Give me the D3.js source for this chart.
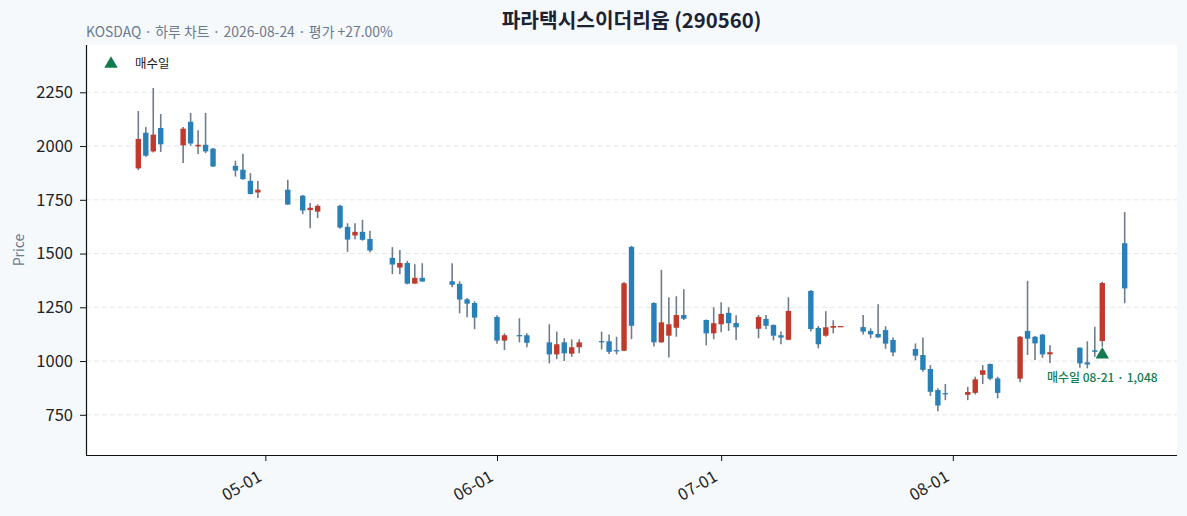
<!DOCTYPE html>
<html><head><meta charset="utf-8">
<script src="https://cdn.jsdelivr.net/npm/d3@7"></script>
<style>
html,body{margin:0;padding:0;background:#f6f9fc;}
svg{display:block;font-family:"Noto Sans CJK KR","Noto Sans",sans-serif;}
</style></head><body>
<svg id="chart" width="1187" height="516"></svg>
<script>
const dates = ["2026-04-14","2026-04-15","2026-04-16","2026-04-17","2026-04-20","2026-04-21","2026-04-22","2026-04-23","2026-04-24","2026-04-27","2026-04-28","2026-04-29","2026-04-30","2026-05-04","2026-05-06","2026-05-07","2026-05-08","2026-05-11","2026-05-12","2026-05-13","2026-05-14","2026-05-15","2026-05-18","2026-05-19","2026-05-20","2026-05-21","2026-05-22","2026-05-26","2026-05-27","2026-05-28","2026-05-29","2026-06-01","2026-06-02","2026-06-04","2026-06-05","2026-06-08","2026-06-09","2026-06-10","2026-06-11","2026-06-12","2026-06-15","2026-06-16","2026-06-17","2026-06-18","2026-06-19","2026-06-22","2026-06-23","2026-06-24","2026-06-25","2026-06-26","2026-06-29","2026-06-30","2026-07-01","2026-07-02","2026-07-03","2026-07-06","2026-07-07","2026-07-08","2026-07-09","2026-07-10","2026-07-13","2026-07-14","2026-07-15","2026-07-16","2026-07-17","2026-07-20","2026-07-21","2026-07-22","2026-07-23","2026-07-24","2026-07-27","2026-07-28","2026-07-29","2026-07-30","2026-07-31","2026-08-03","2026-08-04","2026-08-05","2026-08-06","2026-08-07","2026-08-10","2026-08-11","2026-08-12","2026-08-13","2026-08-14","2026-08-18","2026-08-19","2026-08-20","2026-08-21","2026-08-24"];
const opens  = [1896,2062,1975,2084,2003,2113,1998,2006,1988,1908,1890,1838,1784,1797,1769,1702,1695,1722,1624,1584,1601,1568,1480,1435,1456,1360,1387,1371,1359,1287,1270,1205,1095,1121,1120,1087,1031,1087,1034,1064,1093,1092,1051,1048,1531,1270,1087,1118,1155,1214,1191,1129,1171,1224,1177,1150,1196,1168,1120,1099,1326,1154,1118,1155,1161,1158,1140,1126,1144,1098,1056,1028,963,865,851,843,852,936,986,919,918,1140,1113,1123,1031,1062,994,1050,1093,1548];
const highs  = [2163,2089,2270,2149,2089,2154,2073,2154,1991,1932,1964,1874,1838,1843,1773,1735,1728,1727,1641,1641,1657,1606,1530,1516,1466,1450,1455,1455,1371,1293,1278,1213,1129,1199,1129,1171,1137,1106,1101,1101,1137,1124,1113,1368,1536,1273,1424,1297,1301,1334,1193,1250,1273,1250,1213,1214,1214,1170,1137,1297,1331,1163,1232,1190,1163,1214,1152,1264,1162,1110,1082,1110,981,873,893,880,927,981,989,927,1116,1373,1116,1126,1073,1064,1092,1160,1369,1693];
const lows   = [1888,1950,1970,1972,1921,2001,1963,1967,1902,1858,1843,1775,1758,1726,1683,1618,1665,1615,1508,1567,1560,1506,1404,1404,1357,1360,1369,1343,1222,1204,1148,1081,1051,1087,1064,989,1009,1000,1020,1036,1054,1033,1031,1046,1102,1068,1085,1017,1113,1191,1073,1101,1134,1140,1098,1106,1149,1096,1078,1097,1137,1059,1113,1129,1161,1124,1106,1108,1057,1022,1003,950,838,767,818,818,845,893,911,826,901,1028,1005,1015,991,969,966,1020,1067,1269];
const closes = [2033,1955,2053,2008,2081,2012,2006,1975,1905,1886,1846,1777,1797,1728,1700,1713,1722,1621,1565,1601,1564,1514,1449,1456,1360,1387,1370,1355,1286,1267,1202,1095,1120,1119,1085,1031,1078,1036,1064,1087,1087,1043,1049,1362,1164,1087,1180,1171,1214,1197,1129,1176,1219,1176,1157,1205,1164,1118,1109,1233,1149,1078,1157,1163,1163,1137,1124,1110,1081,1040,1025,959,857,793,847,856,915,957,918,852,1113,1104,1082,1031,1041,989,984,1043,1363,1338];
const yTicks = [750,1000,1250,1500,1750,2000,2250];
const xTickDates = ["2026-05-01","2026-06-01","2026-07-01","2026-08-01"];
const buyDate = "2026-08-21";
const buyPrice = 1048;
const titleText = "파라택시스이더리움 (290560)";
const subtitleText = "KOSDAQ · 하루 차트 · 2026-08-24 · 평가 +27.00%";
const legendLabel = "매수일";
const yLabel = "Price";

const parse = d3.utcParse("%Y-%m-%d");
const rows = dates.map((d,i)=>({date:parse(d),o:opens[i],h:highs[i],l:lows[i],c:closes[i]}));

const svg = d3.select("#chart");
const m = {left:86, right:1177, top:45, bottom:455};
const DAY = 864e5;

const x = d3.scaleUtc()
  .domain([new Date(rows[0].date.getTime()-7*DAY), new Date(rows[rows.length-1].date.getTime()+7*DAY)])
  .range([m.left, m.right]);
const y = d3.scaleLinear().domain([563, 2470]).range([m.bottom, m.top]);

svg.append("rect").attr("x",m.left).attr("y",m.top).attr("width",m.right-m.left).attr("height",m.bottom-m.top).attr("fill","#ffffff");

// grid
svg.append("g").selectAll("line").data(yTicks).join("line")
  .attr("x1",m.left).attr("x2",m.right)
  .attr("y1",d=>y(d)).attr("y2",d=>y(d))
  .attr("stroke","#e4e6e8").attr("stroke-width",1).attr("stroke-dasharray","5,3");

const up = "#c0392b", down = "#2980b9", wick = "#6f7c8b";
const bw = 5.4;
const g = svg.append("g");
g.selectAll("line.w").data(rows).join("line").attr("class","w")
  .attr("x1",d=>x(d.date)).attr("x2",d=>x(d.date))
  .attr("y1",d=>y(d.h)).attr("y2",d=>y(d.l))
  .attr("stroke",wick).attr("stroke-width",1.6);
g.selectAll("rect.b").data(rows).join("rect").attr("class","b")
  .attr("x",d=>x(d.date)-bw/2).attr("width",bw)
  .attr("y",d=>y(Math.max(d.o,d.c)))
  .attr("height",d=>Math.max(1.3, Math.abs(y(d.o)-y(d.c))))
  .attr("fill",d=>d.c>=d.o?up:down);

// axes
const yAxis = d3.axisLeft(y).tickValues(yTicks).tickSize(6).tickPadding(7).tickFormat(d3.format("d"));
const ya = svg.append("g").attr("transform",`translate(${m.left},0)`).call(yAxis);
ya.select(".domain").attr("d",`M0.5,${m.top}V${m.bottom}`).attr("stroke","#111").attr("stroke-width",1.2);
ya.selectAll(".tick line").attr("stroke","#111");
ya.selectAll("text").attr("font-size",16.5).attr("fill","#222").attr("font-family",'"Noto Sans CJK KR","Noto Sans",sans-serif');

const xAxis = d3.axisBottom(x).tickValues(xTickDates.map(parse)).tickSize(6).tickFormat(d3.utcFormat("%m-%d"));
const xa = svg.append("g").attr("transform",`translate(0,${m.bottom})`).call(xAxis);
xa.select(".domain").attr("d",`M${m.left},0.5H${m.right}`).attr("stroke","#111").attr("stroke-width",1.2);
xa.selectAll(".tick line").attr("stroke","#111");
xa.selectAll("text").attr("font-size",16.5).attr("fill","#222").attr("font-family",'"Noto Sans CJK KR","Noto Sans",sans-serif')
  .attr("y",0).attr("dy",null).attr("x",0)
  .attr("text-anchor","end")
  .attr("transform","translate(-3,25) rotate(-30)");

// y label
svg.append("text").attr("transform",`translate(24,${(m.top+m.bottom)/2}) rotate(-90)`)
  .attr("text-anchor","middle").attr("font-size",14).attr("fill","#6b7a8c").text(yLabel);

// title
svg.append("text").attr("x",(m.left+m.right)/2).attr("y",28).attr("text-anchor","middle")
  .attr("font-size",20.3).attr("font-weight","bold").attr("fill","#1b2333").text(titleText);
svg.append("text").attr("x",86).attr("y",37).attr("font-size",13.9).attr("fill","#6b7a8c").text(subtitleText);

// buy marker
const green = "#0f7b4f";
const tri = d3.symbol().type(d3.symbolTriangle).size(78);
svg.append("path").attr("d",tri()).attr("fill",green)
  .attr("transform",`translate(${x(parse(buyDate))},${y(buyPrice)+4})`);
svg.append("text").attr("x",x(parse(buyDate))).attr("y",y(buyPrice)+31).attr("text-anchor","middle")
  .attr("font-size",12).attr("font-weight",500).attr("fill",green)
  .text(`${legendLabel} ${d3.utcFormat("%m-%d")(parse(buyDate))} · ${d3.format(",")(buyPrice)}`);

// legend
svg.append("path").attr("d",tri()).attr("fill",green).attr("transform","translate(111,64)");
svg.append("text").attr("x",135).attr("y",68).attr("font-size",12.5).attr("fill","#222").text(legendLabel);
</script>
</body></html>
